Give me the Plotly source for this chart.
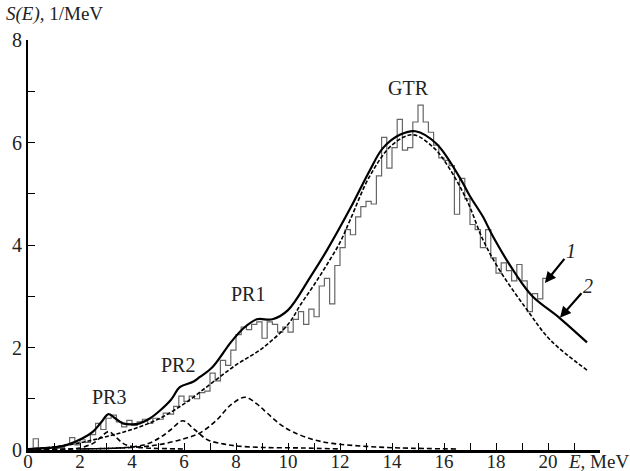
import numpy as np
import plotly.graph_objects as go

# ---- histogram (experimental S(E)), 0.2 MeV bins starting at 0 ----
bin_width = 0.2
hist_vals = [0.02, 0.22, 0.03, 0.02, 0.04, 0.03, 0.05, 0.10, 0.24, 0.10,
             0.20, 0.15, 0.30, 0.52, 0.40, 0.62, 0.68, 0.55, 0.45, 0.58,
             0.48, 0.55, 0.60, 0.52, 0.62, 0.60, 0.72, 0.70, 0.85, 1.05,
             0.95, 1.05, 1.00, 1.12, 1.15, 1.50, 1.35, 1.75, 1.65, 1.95,
             2.25, 2.40, 2.35, 2.45, 2.50, 2.18, 2.50, 2.45, 2.30, 2.40,
             2.30, 2.55, 2.70, 2.45, 2.75, 2.60, 3.20, 3.35, 2.85, 3.60,
             3.95, 4.30, 4.20, 4.55, 4.75, 4.85, 4.80, 5.35, 6.10, 5.50,
             5.90, 6.45, 5.85, 5.90, 6.40, 6.73, 6.40, 6.20, 5.95, 5.70,
             5.65, 5.55, 4.60, 5.30, 4.90, 4.40, 4.30, 3.95, 4.30, 3.75,
             3.45, 3.65, 3.50, 3.30, 3.62, 3.30, 2.70, 3.05, 2.95, 3.35]

# ---- total fit (curve 2) ----
E_tot = [0, 1, 1.5, 2.1, 2.5, 2.8, 3.1, 3.35, 3.65, 4.0, 4.3, 4.7, 5.1, 5.5,
         5.85, 6.35, 6.6, 7.1, 7.8, 8.3, 8.8, 9.4, 10.0, 10.85, 11.5, 12.4,
         13.15, 13.65, 14.3, 14.9, 15.7, 16.6, 17.0, 17.5, 17.9, 18.8, 19.4,
         20.46, 21.5]
S_tot = [0.02, 0.05, 0.10, 0.23, 0.36, 0.53, 0.70, 0.62, 0.52, 0.50, 0.52,
         0.62, 0.78, 0.98, 1.23, 1.33, 1.42, 1.62, 2.10, 2.38, 2.55, 2.55,
         2.73, 3.37, 3.90, 4.72, 5.46, 5.89, 6.15, 6.22, 5.98, 5.32, 4.95,
         4.55, 4.15, 3.40, 3.00, 2.57, 2.10]

# ---- GTR component ----
E_gtr = [0, 1, 2, 3, 4, 5, 6, 7, 8, 9, 10, 10.5, 11, 11.5, 12, 12.4, 13.15,
         14, 14.8, 15.6, 16.2, 16.9, 17.5, 18.15, 19.2, 20.1, 21.5]
S_gtr = [0.02, 0.06, 0.14, 0.26, 0.40, 0.60, 0.90, 1.28, 1.66, 1.98, 2.45,
         2.85, 3.22, 3.62, 4.05, 4.50, 5.35, 5.95, 6.15, 5.90, 5.50, 4.85,
         4.10, 3.50, 2.73, 2.14, 1.56]

# ---- PR1 component ----
E_pr1 = [2, 3, 4, 5, 6, 6.6, 7.25, 7.8, 8.35, 8.8, 9.2, 9.7, 10.2, 11, 11.7,
         13, 14.3, 16.5]
S_pr1 = [0.02, 0.03, 0.05, 0.10, 0.22, 0.33, 0.58, 0.88, 1.03, 0.90, 0.72,
         0.50, 0.35, 0.20, 0.13, 0.07, 0.04, 0.02]

# ---- PR2 component ----
E_pr2 = [0, 2, 3, 4, 4.6, 5.1, 5.5, 5.95, 6.4, 6.9, 7.5, 8, 9, 10.5, 12]
S_pr2 = [0.01, 0.02, 0.03, 0.06, 0.12, 0.25, 0.40, 0.57, 0.40, 0.20, 0.12,
         0.08, 0.05, 0.04, 0.02]

# ---- PR3 component ----
E_pr3 = [0, 1.5, 2, 2.5, 2.8, 3.1, 3.4, 3.65, 4, 4.5, 5, 6]
S_pr3 = [0.01, 0.02, 0.04, 0.13, 0.25, 0.36, 0.24, 0.13, 0.07, 0.04, 0.03, 0.02]

# ---- axis ticks ----
x_tickvals = list(range(0, 23))
x_ticktext = ['0', '', '2', '', '4', '', '6', '', '8', '', '10', '', '12', '',
              '14', '', '16', '', '18', '', '20', '', '']
y_tickvals = list(range(0, 9))
y_ticktext = ['0', '', '2', '', '4', '', '6', '', '8']

# ---- peak labels ----
peak_names = ['GTR', 'PR1', 'PR2', 'PR3']
peak_E = [14.65, 8.45, 5.75, 3.1]
peak_S = [7.06, 3.05, 1.66, 1.03]

FONT = 'Liberation Serif'

edges = np.arange(len(hist_vals) + 1) * bin_width
hx = list(edges)
hy = list(hist_vals) + [hist_vals[-1]]

fig = go.Figure()
fig.add_trace(go.Scatter(x=hx, y=hy, mode='lines', line_shape='hv',
                         line=dict(color='#666666', width=1.2), showlegend=False))
comp_style = dict(color='black', width=1.6, dash='5px,3px')
for ex, sy in [(E_pr3, S_pr3), (E_pr2, S_pr2), (E_pr1, S_pr1)]:
    fig.add_trace(go.Scatter(x=ex, y=sy, mode='lines', line_shape='spline',
                             line=comp_style, showlegend=False))
fig.add_trace(go.Scatter(x=E_gtr, y=S_gtr, mode='lines', line_shape='spline',
                         line=dict(color='black', width=1.6, dash='4px,2px'),
                         showlegend=False))
fig.add_trace(go.Scatter(x=E_tot, y=S_tot, mode='lines', line_shape='spline',
                         line=dict(color='black', width=2.2), showlegend=False))

ann = []
for n, ex, sy in zip(peak_names, peak_E, peak_S):
    ann.append(dict(x=ex, y=sy, text=n, showarrow=False,
                    font=dict(family=FONT, size=20, color='#222')))
# arrows 1 and 2
ann.append(dict(x=19.88, y=3.26, text='<i>1</i>', showarrow=True, ax=26, ay=-32,
                arrowhead=2, arrowsize=1, arrowwidth=2.2, arrowcolor='black',
                font=dict(family=FONT, size=20, color='#222')))
ann.append(dict(x=20.46, y=2.58, text='<i>2</i>', showarrow=True, ax=28, ay=-32,
                arrowhead=2, arrowsize=1, arrowwidth=2.2, arrowcolor='black',
                font=dict(family=FONT, size=20, color='#222')))
# axis titles
ann.append(dict(xref='paper', yref='paper', x=-0.042, y=1.063, xanchor='left',
                yanchor='middle', showarrow=False,
                text='<i>S(E)</i>, 1/MeV', font=dict(family=FONT, size=19, color='#222')))
ann.append(dict(xref='paper', yref='paper', x=0.94, y=-0.028, xanchor='left',
                yanchor='middle', showarrow=False,
                text='<i>E</i>, MeV', font=dict(family=FONT, size=19, color='#222')))

fig.update_layout(
    width=630, height=471,
    margin=dict(l=28, r=30, t=40, b=21, autoexpand=False),
    plot_bgcolor='white', paper_bgcolor='white',
    font=dict(family=FONT, size=20, color='#222'),
    annotations=ann,
    xaxis=dict(range=[0, 22.0], showgrid=False, zeroline=False, showline=True,
               linecolor='black', linewidth=2.5, ticks='inside', ticklen=7,
               tickwidth=1, tickcolor='black', tickvals=x_tickvals,
               ticktext=x_ticktext, tickfont=dict(family=FONT, size=19),
               ticklabelstandoff=-8, automargin=False),
    yaxis=dict(range=[0, 8.0], showgrid=False, zeroline=False, showline=True,
               linecolor='black', linewidth=2, ticks='inside', ticklen=7,
               tickwidth=1, tickcolor='black', tickvals=y_tickvals,
               ticktext=y_ticktext, tickfont=dict(family=FONT, size=20),
               automargin=False),
)
fig.write_html('out.html')
